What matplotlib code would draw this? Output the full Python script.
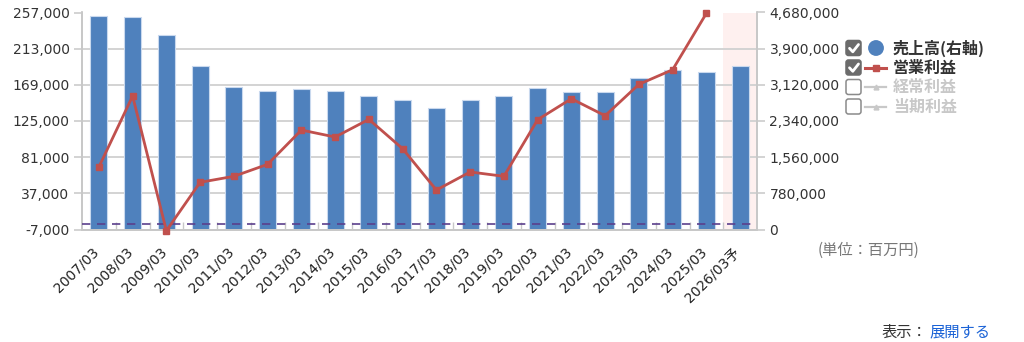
import matplotlib
matplotlib.use("Agg")
import matplotlib.pyplot as plt
from matplotlib.patches import FancyBboxPatch, Circle
import numpy as np

years = ['2007/03', '2008/03', '2009/03', '2010/03', '2011/03', '2012/03', '2013/03',
         '2014/03', '2015/03', '2016/03', '2017/03', '2018/03', '2019/03', '2020/03',
         '2021/03', '2022/03', '2023/03', '2024/03', '2025/03', '2026/03予']
sales = [4611000, 4583000, 4188000, 3526000, 3080000, 2994000, 3023000, 2994000,
         2879000, 2793000, 2620000, 2793000, 2879000, 3045000, 2965000, 2965000,
         3274000, 3447000, 3390000, 3533000]
op_profit = [69000, 155400, -8500, 50400, 57700, 72300, 114000, 105500, 127000,
             91300, 41000, 63000, 57700, 126600, 152100, 131400, 169600, 187400,
             256000, np.nan]
left_ticks = [-7000, 37000, 81000, 125000, 169000, 213000, 257000]
right_ticks = [0, 780000, 1560000, 2340000, 3120000, 3900000, 4680000]
legend_labels = ['売上高(右軸)', '営業利益', '経常利益', '当期利益']

FONT = ['DejaVu Sans', 'Noto Sans CJK JP']
CJK = ['Noto Sans CJK JP', 'DejaVu Sans']
plt.rcParams['font.family'] = FONT

BLUE = '#4f81bd'
RED = '#c0504d'
GRID = '#d0d0d0'
TXT = '#333333'

W, H = 1024, 342
fig = plt.figure(figsize=(W / 100, H / 100), dpi=100)
L, R, T, B = 82, 757, 12.5, 229.5
rect = [L / W, 1 - B / H, (R - L) / W, (B - T) / H]

ax2 = fig.add_axes(rect)  # bars, right axis (behind)
ax = fig.add_axes(rect, sharex=ax2)  # line, left axis (front)
ax.patch.set_visible(False)
ax2.set_zorder(1)
ax.set_zorder(2)

x = np.arange(len(years))
n = len(years)

# pink forecast band
ax2.axvspan(n - 1.5, n - 0.5, color='#fef0ef', zorder=0, lw=0)
ax2.bar(x, sales, width=0.5, color=BLUE, edgecolor='#c9d9ee', linewidth=0.8, zorder=2)
ax2.set_ylim(0, 4680000)
ax2.set_yticks(right_ticks)
ax2.set_yticklabels([f'{v:,}' for v in right_ticks])
ax2.yaxis.set_label_position('right')
ax2.yaxis.tick_right()
ax2.grid(axis='y', color=GRID, lw=1.3, zorder=1)
ax2.set_axisbelow(True)

ax.plot(x, op_profit, color=RED, lw=2, marker='s', ms=5, clip_on=False, zorder=5)
ax.axhline(0, color='#5b3f8c', lw=1.2, ls=(0, (5, 4)), zorder=4)
ax.set_ylim(-7000, 257000)
ax.set_yticks(left_ticks)
ax.set_yticklabels([f'{v:,}' for v in left_ticks])
ax.set_xlim(-0.5, n - 0.5)

for a in (ax, ax2):
    for s in a.spines.values():
        s.set_color('#c8c8c8')
        s.set_linewidth(1.3)
    a.spines['top'].set_visible(False)

ax.tick_params(axis='y', colors=GRID, labelcolor=TXT, labelsize=10, length=6, width=1.3, pad=3)
ax2.tick_params(axis='y', colors=GRID, labelcolor=TXT, labelsize=10, length=6, width=1.3, pad=3)

ax2.set_xticks(x + 0.08)
ax2.set_xticklabels(years, rotation=45, ha='right', fontsize=10, color='#222222')
ax2.set_xticks(np.arange(-0.5, n - 0.5, 1.0)[1:], minor=True)
ax2.tick_params(axis='x', which='major', length=0, pad=11)
ax2.tick_params(axis='x', which='minor', direction='in', length=6, width=1.0, colors='#c8c8c8')
ax.tick_params(axis='x', which='both', length=0, labelbottom=False)
for lbl in ax2.get_xticklabels():
    lbl.set_fontfamily(FONT)

# overlay in pixel coordinates for legend and notes
ov = fig.add_axes([0, 0, 1, 1])
ov.set_xlim(0, W)
ov.set_ylim(H, 0)
ov.axis('off')
ov.set_zorder(10)

rows_y = [48, 67.5, 87, 106.5]
checked = [True, True, False, False]
text_colors = ['#333333', '#333333', '#c8c8c8', '#c8c8c8']
for i, (yy, chk) in enumerate(zip(rows_y, checked)):
    box = FancyBboxPatch((846, yy - 7.5), 15, 15, boxstyle='round,pad=0,rounding_size=2.5',
                         facecolor='#6b6b6b' if chk else 'white',
                         edgecolor='#6b6b6b' if chk else '#8a8a8a', lw=1.1)
    ov.add_patch(box)
    if chk:
        ov.plot([849.5, 852.8, 858.5], [yy + 0.3, yy + 3.8, yy - 3.5], color='white', lw=2,
                solid_capstyle='round', solid_joinstyle='round')
    if i == 0:
        ov.add_patch(Circle((876, yy), 7.2, color=BLUE))
    else:
        col = RED if i == 1 else '#c8c8c8'
        ov.plot([865, 886], [yy, yy], color=col, lw=2.2 if i == 1 else 1.6)
        ov.plot([875.5], [yy], marker='s' if i == 1 else '^', ms=4 if i == 1 else 3.5, color=col)
    ov.text(893, yy, legend_labels[i], fontsize=11.5, fontweight='bold', color=text_colors[i],
            va='center', ha='left', family=CJK)

ov.text(818, 250, '(単位：百万円)', fontsize=11, color='#777777', va='center', ha='left', family=CJK)
ov.text(882, 332, '表示：', fontsize=11, color='#333333', va='center', ha='left', family=CJK)
ov.text(929, 332, '展開する', fontsize=11, color='#1a62d6', va='center', ha='left', family=CJK)

fig.savefig('out.png', dpi=100)
